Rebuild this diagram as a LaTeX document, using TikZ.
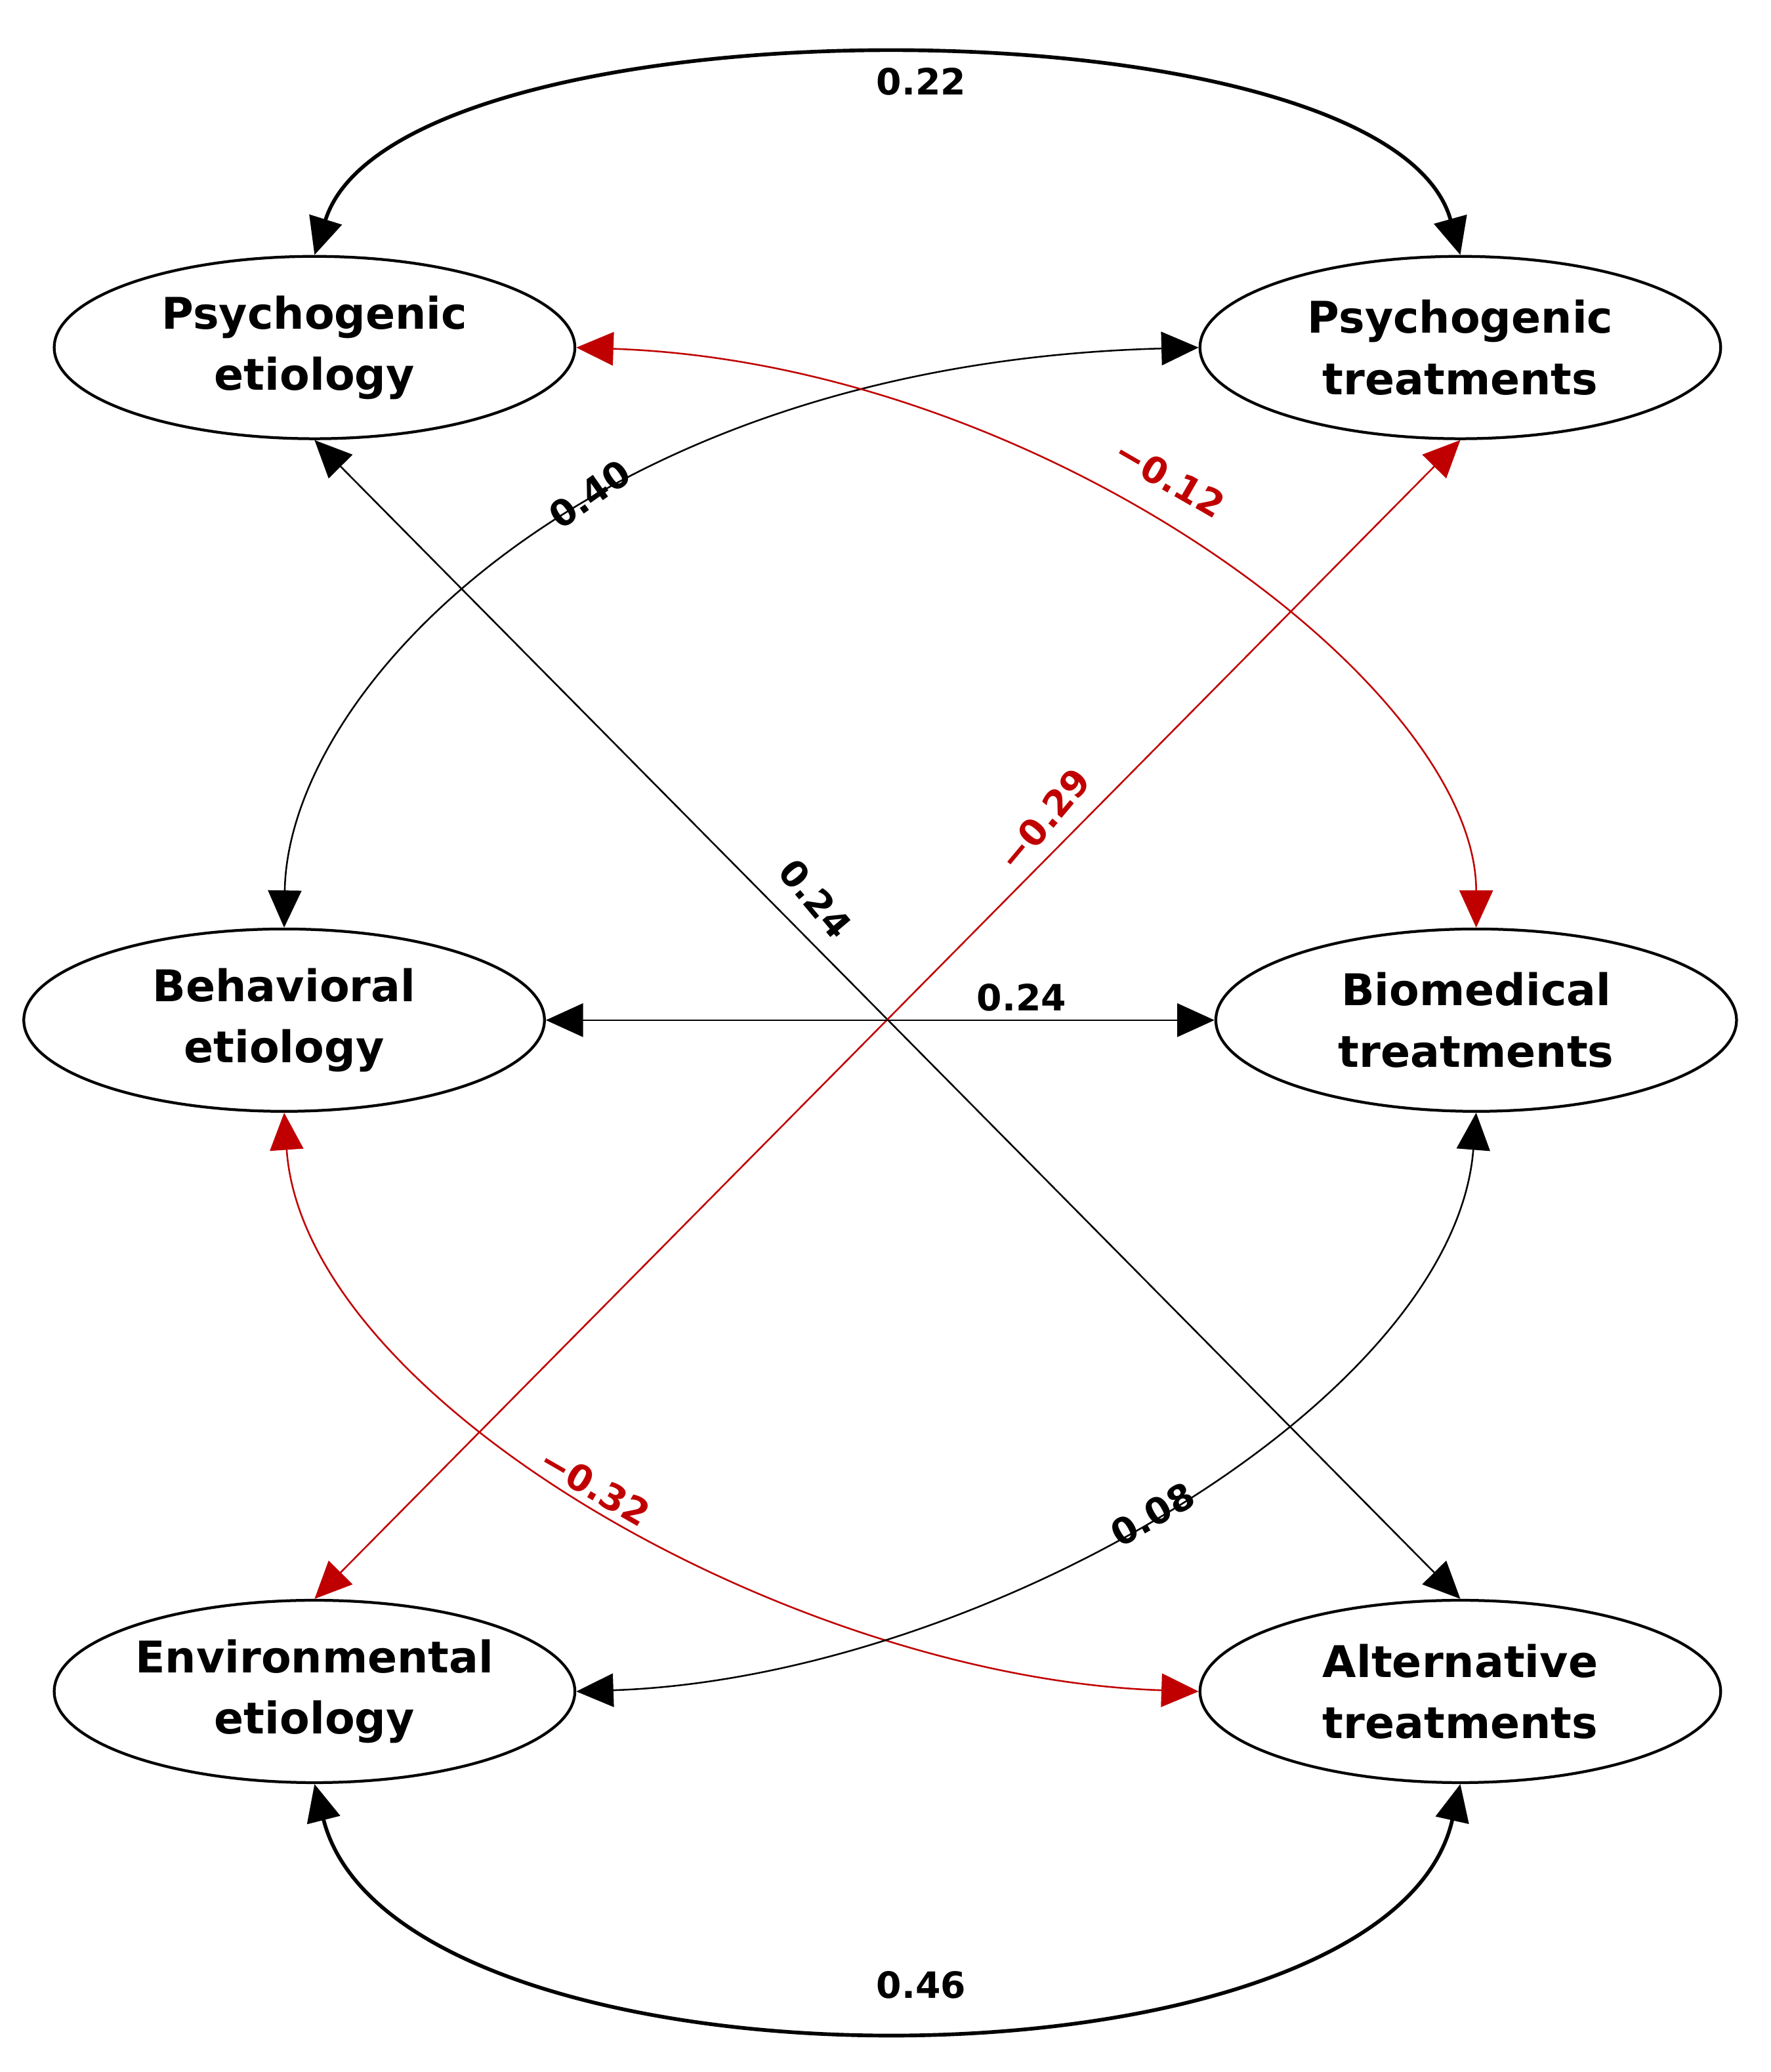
\documentclass[tikz,border=0pt]{standalone}
\usepackage{fontspec}
\setmainfont{DejaVu Sans}
\usetikzlibrary{arrows.meta,shapes.geometric}
\definecolor{dred}{HTML}{C00000}
\begin{document}
\begin{tikzpicture}[x=0.05cm,y=-0.05cm,
  var/.style={ellipse,draw,line width=3pt,minimum width=19.7cm,minimum height=6.9cm,inner sep=0pt,align=center,font=\fontsize{47}{66}\selectfont\bfseries},
  both/.style={{Triangle[length=40pt,width=36pt]}-{Triangle[length=40pt,width=36pt]}},
  thk/.style={both,line width=4pt},
  thn/.style={both,line width=1.8pt},
  lab/.style={font=\fontsize{39}{44}\selectfont\bfseries},
  rlab/.style={lab,text=dred}]
\useasboundingbox (0,0) rectangle (1340,1568);
\node[var] (pe) at (238,263) {Psychogenic\\etiology};
\node[var] (pt) at (1105,263) {Psychogenic\\treatments};
\node[var] (be) at (215,772) {Behavioral\\etiology};
\node[var] (bt) at (1117,772) {Biomedical\\treatments};
\node[var] (ee) at (238,1280) {Environmental\\etiology};
\node[var] (at) at (1105,1280) {Alternative\\treatments};
\draw[thk] (pe.north) .. controls (300,-5) and (1050,-5) .. (pt.north);
\draw[thk] (ee.south) .. controls (300,1595) and (1050,1595) .. (at.south);
\draw[thn] (pt.west) .. controls (450,275) and (218,520) .. (be.north);
\draw[thn,dred] (pe.east) .. controls (790,275) and (1117,520) .. (bt.north);
\draw[thn] (pe.south) -- (at.north);
\draw[thn,dred] (pt.south) -- (ee.north);
\draw[thn] (be.east) -- (bt.west);
\draw[thn,dred] (be.south) .. controls (230,1060) and (600,1270) .. (at.west);
\draw[thn] (bt.south) .. controls (1100,1060) and (740,1270) .. (ee.east);
\node[lab] (l1) at (697,62) {0.22};
\node[lab] (l2) at (697,1502) {0.46};
\node[lab,rotate=35] (l3) at (446,374) {0.40};
\node[rlab,rotate=-30] (l4) at (885,362) {−0.12};
\node[lab,rotate=-50] (l5) at (617,680) {0.24};
\node[rlab,rotate=50] (l6) at (790,620) {−0.29};
\node[lab] (l7) at (773,755) {0.24};
\node[rlab,rotate=-30] (l8) at (450,1125) {−0.32};
\node[lab,rotate=30] (l9) at (872,1146) {0.08};
\end{tikzpicture}
\end{document}
